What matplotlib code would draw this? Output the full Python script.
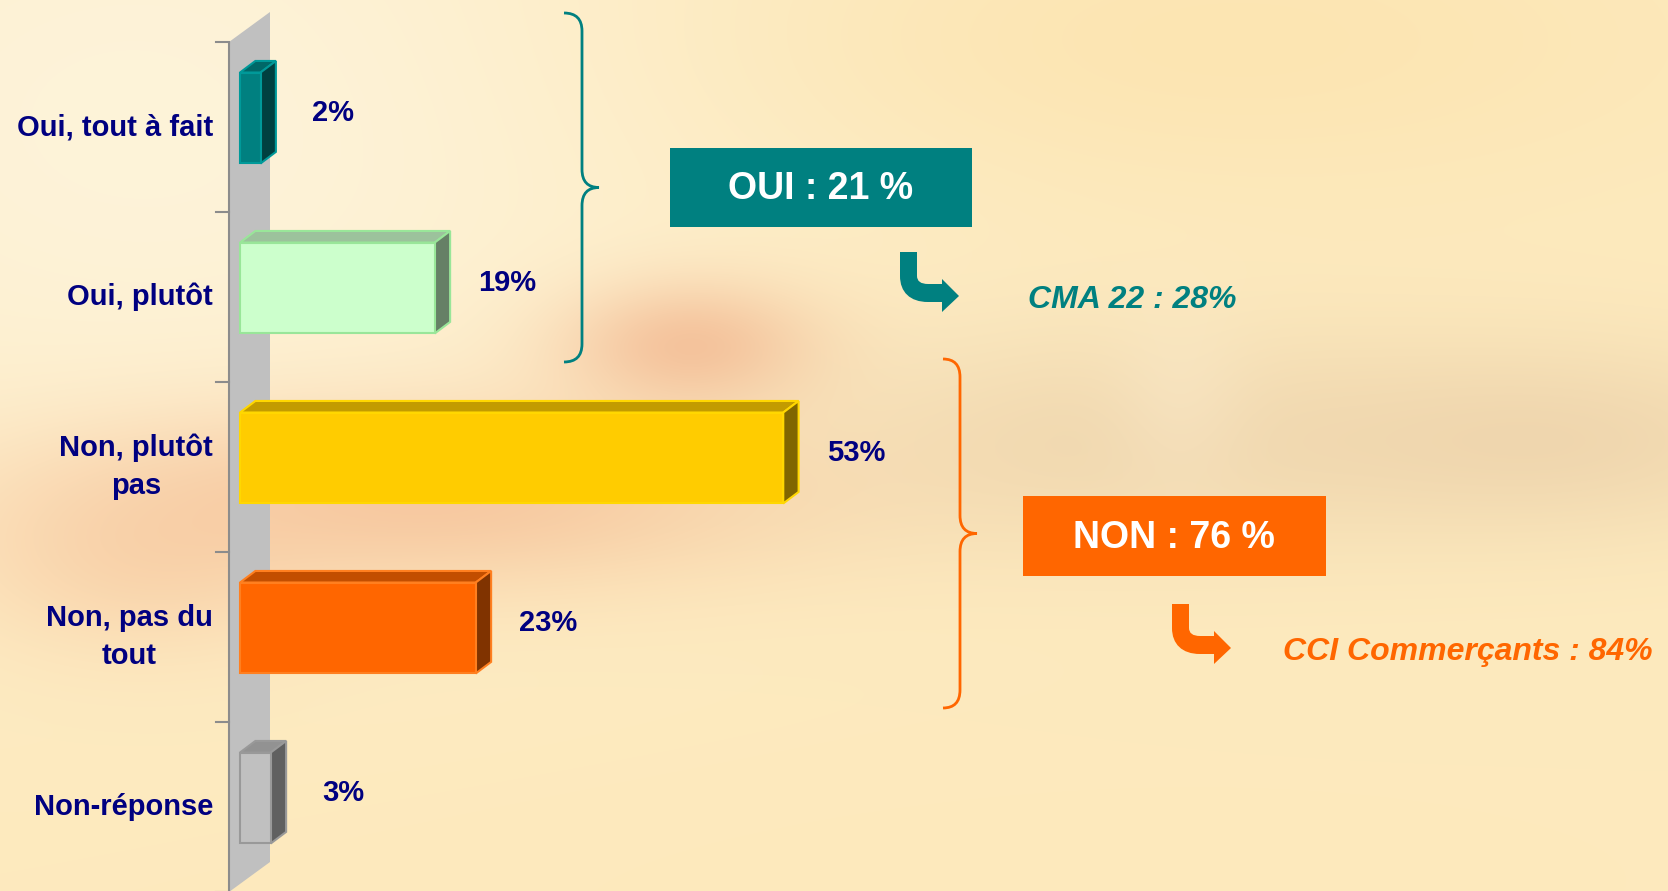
import numpy as np
import matplotlib.pyplot as plt
from matplotlib.patches import Polygon, Rectangle, PathPatch
from matplotlib.path import Path

plt.rcParams['font.family'] = ['Liberation Sans', 'DejaVu Sans']

# données
categories = ["Oui, tout à fait", "Oui, plutôt", "Non, plutôt\npas", "Non, pas du\ntout", "Non-réponse"]
values = [2, 19, 53, 23, 3]
value_labels = ["2%", "19%", "53%", "23%", "3%"]

face_colors = ["#008080", "#CCFFCC", "#FFCC00", "#FF6600", "#C0C0C0"]
top_colors = ["#006868", "#9CC29C", "#C29B00", "#C24E00", "#929292"]
side_colors = ["#004040", "#668066", "#806600", "#803300", "#606060"]
edge_colors = ["#009999", "#99E699", "#FFD700", "#FF7F1F", "#999999"]

oui_total = "OUI : 21 %"
non_total = "NON : 76 %"
oui_compare = "CMA 22 : 28%"
non_compare = "CCI Commerçants : 84%"

W, H = 1668, 891
fig = plt.figure(figsize=(W / 100, H / 100), dpi=100)

# fond dégradé chaud
yy, xx = np.mgrid[0:H, 0:W].astype(float)
img = np.ones((H, W, 3)) * np.array([253, 234, 190]) / 255


def blob(cx, cy, sx, sy, color, strength):
    g = np.exp(-(((xx - cx) / sx) ** 2 + ((yy - cy) / sy) ** 2) / 2) * strength
    img[:] = img * (1 - g[..., None]) + np.array(color) / 255 * g[..., None]


blob(150, 120, 450, 300, (254, 245, 222), 0.85)
blob(1200, 40, 350, 110, (251, 224, 165), 0.5)
blob(430, 500, 260, 65, (244, 182, 140), 0.65)
blob(140, 560, 130, 70, (246, 192, 150), 0.45)
blob(690, 345, 90, 45, (240, 168, 128), 0.6)
blob(1120, 440, 230, 80, (228, 198, 160), 0.45)
blob(1560, 440, 200, 70, (226, 194, 158), 0.45)
blob(1180, 390, 50, 70, (252, 236, 205), 0.4)
blob(950, 880, 700, 120, (253, 232, 186), 0.4)

bg = fig.add_axes([0, 0, 1, 1])
bg.imshow(img, extent=(0, W, H, 0), aspect='auto', interpolation='bilinear')
bg.axis('off')

# axes des barres : 0 % au pixel 240, 10,25 px par %, catégories de 170 px
ppp = 10.25
ax = fig.add_axes([0, -1 / H, 1, 850 / H])
ax.set_xlim(-240 / ppp, (W - 240) / ppp)
ax.set_ylim(4.5, -0.5)
ax.axis('off')

wall_left = -11 / ppp
wall_right = 30 / ppp
wall_dy = 30 / 170
ax.add_patch(Polygon([(wall_left, -0.5), (wall_right, -0.5 - wall_dy),
                      (wall_right, 4.5 - wall_dy), (wall_left, 4.5)],
                     closed=True, facecolor="#C0C0C0", edgecolor="none", zorder=1, clip_on=False))
ax.plot([wall_left, wall_left], [-0.5, 4.5], color="#8C8C8C", lw=1.5, zorder=2)
for t in np.arange(-0.5, 4.6, 1):
    ax.plot([wall_left - 13 / ppp, wall_left], [t, t], color="#8C8C8C", lw=1.5, zorder=2,
            clip_on=False)

# barres 3D
ypos = np.arange(len(categories))
bar_h = 0.535
shift = -0.053
dx = 1.5
dy = 0.068
ax.barh(ypos + shift, values, height=bar_h, color=face_colors,
        edgecolor=edge_colors, linewidth=1.5, zorder=4)
for i, v in enumerate(values):
    yt = i + shift - bar_h / 2
    yb = i + shift + bar_h / 2
    ax.add_patch(Polygon([(0, yt), (v, yt), (v + dx, yt - dy), (dx, yt - dy)], closed=True,
                         facecolor=top_colors[i], edgecolor=edge_colors[i], lw=1.5, zorder=3))
    ax.add_patch(Polygon([(v, yt), (v + dx, yt - dy), (v + dx, yb - dy), (v, yb)], closed=True,
                         facecolor=side_colors[i], edgecolor=edge_colors[i], lw=1.5, zorder=3))
    ax.text(v + dx + 5.6, i - 0.08, value_labels[i], ha='center', va='center',
            fontsize=21, fontweight='bold', color="#000080", zorder=5)
    ax.text(-27 / ppp, i, categories[i], ha='right', va='center', multialignment='center',
            fontsize=21, fontweight='bold', color="#000080", linespacing=1.45)

# annotations en pixels
ov = fig.add_axes([0, 0, 1, 1])
ov.set_xlim(0, W)
ov.set_ylim(H, 0)
ov.axis('off')
ov.patch.set_alpha(0)


def brace(x_end, x_mid, x_tip, y_top, y_bot, color, r=18):
    y_tip = (y_top + y_bot) / 2
    verts = [(x_end, y_top), (x_mid, y_top), (x_mid, y_top + r),
             (x_mid, y_tip - r), (x_mid, y_tip), (x_tip, y_tip),
             (x_mid, y_tip), (x_mid, y_tip + r),
             (x_mid, y_bot - r), (x_mid, y_bot), (x_end, y_bot)]
    codes = [Path.MOVETO, Path.CURVE3, Path.CURVE3, Path.LINETO, Path.CURVE3, Path.CURVE3,
             Path.CURVE3, Path.CURVE3, Path.LINETO, Path.CURVE3, Path.CURVE3]
    ov.add_patch(PathPatch(Path(verts, codes), facecolor='none', edgecolor=color, lw=2.0))


def bent_arrow(x, y, color):
    pts = [(0, 0), (17, 0), (17, 24), (17, 32), (28, 32), (42, 32), (42, 27), (59, 44),
           (42, 60), (42, 50), (28, 50), (10, 50), (0, 40), (0, 24), (0, 0)]
    codes = [Path.MOVETO, Path.LINETO, Path.LINETO, Path.CURVE3, Path.CURVE3, Path.LINETO,
             Path.LINETO, Path.LINETO, Path.LINETO, Path.LINETO, Path.LINETO,
             Path.CURVE4, Path.CURVE4, Path.CURVE4, Path.CLOSEPOLY]
    verts = [(x + a, y + b) for a, b in pts]
    ov.add_patch(PathPatch(Path(verts, codes), facecolor=color, edgecolor='none'))


brace(564, 582, 599, 13, 362, "#008080")
brace(943, 960, 977, 359, 708, "#FF6600")

ov.add_patch(Rectangle((670, 148), 302, 79, facecolor="#008080", edgecolor='none'))
ov.text(821, 189, oui_total, ha='center', va='center', fontsize=27, fontweight='bold', color='white')
ov.add_patch(Rectangle((1023, 496), 303, 80, facecolor="#FF6600", edgecolor='none'))
ov.text(1174, 538, non_total, ha='center', va='center', fontsize=27, fontweight='bold', color='white')

bent_arrow(900, 252, "#008080")
bent_arrow(1172, 604, "#FF6600")

ov.text(1028, 300, oui_compare, ha='left', va='center', fontsize=23, fontweight='bold',
        fontstyle='italic', color="#008080")
ov.text(1283, 652, non_compare, ha='left', va='center', fontsize=23, fontweight='bold',
        fontstyle='italic', color="#FF6600")

fig.savefig("out.png", dpi=100)
